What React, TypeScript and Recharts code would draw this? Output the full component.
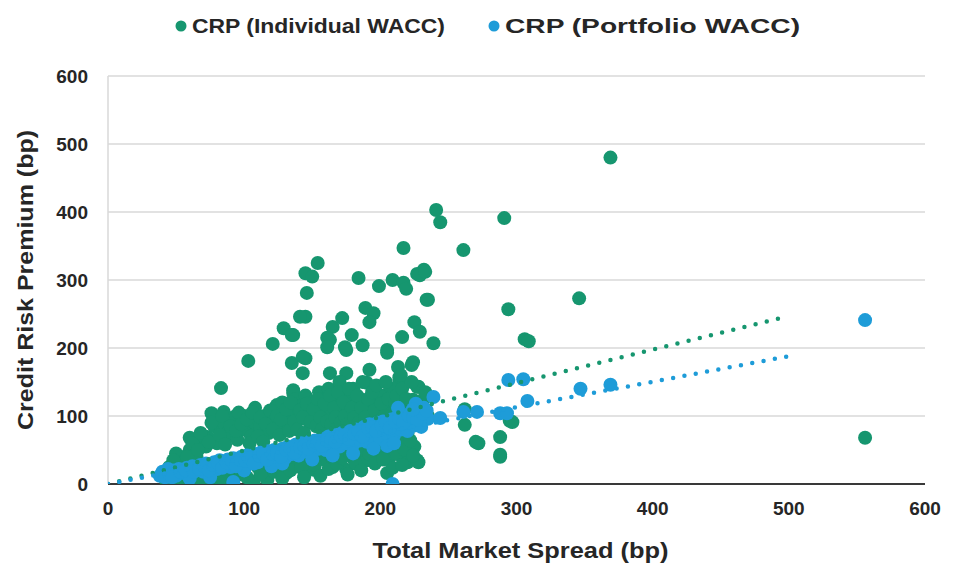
import React from "react";
import {
  ScatterChart,
  Scatter,
  XAxis,
  YAxis,
  CartesianGrid,
  Label,
} from "recharts";

const GREEN = "#16966F";
const BLUE = "#1E9CD8";
const FONT = "'Liberation Sans', Arial, sans-serif";
const TEXT = "#262626";

const xTicks = [0, 100, 200, 300, 400, 500, 600];
const yTicks = [0, 100, 200, 300, 400, 500, 600];

const seriesNames = ["CRP (Individual WACC)", "CRP (Portfolio WACC)"];

// [total market spread, credit risk premium]
const individualPoints: [number, number][] = [
  [369, 480], [241, 403], [244, 385], [291, 391], [261, 344], [346, 273],
  [294, 257], [306, 213], [309, 210], [217, 347], [232, 315], [227, 309],
  [235, 271], [239, 207], [262, 110], [272, 60], [288, 40], [288, 69],
  [295, 93], [556, 68], [154, 325], [145, 310], [150, 305], [146, 281],
  [145, 246], [136, 219], [184, 303], [199, 291], [209, 300], [217, 296],
  [219, 287], [229, 307], [233, 312], [234, 271], [189, 259], [195, 251],
  [192, 238], [172, 244], [165, 231], [161, 215], [179, 219], [187, 204],
  [174, 201], [205, 197], [216, 216], [225, 238], [229, 224], [129, 229],
  [135, 219], [121, 206], [141, 246], [103, 181], [83, 141], [135, 178],
  [145, 185], [163, 212], [175, 197], [161, 201], [205, 193], [224, 179],
  [60, 68], [76, 104], [85, 106], [93, 99], [108, 112], [125, 113],
  [136, 138], [143, 163], [163, 163], [175, 163], [190, 149], [180, 128],
  [206, 134], [214, 153], [228, 143], [190, 119], [53, 40], [65, 60],
  [209, 109], [227, 143], [224, 124], [213, 172], [223, 175], [214, 157],
  [192, 168], [192, 124], [143, 187], [124, 116], [106, 79], [73, 69],
  [87, 69], [136, 134], [136, 99], [158, 104], [148, 90], [170, 99],
  [139, 104], [205, 104], [262, 87], [270, 62], [288, 43], [297, 91],
  [207, 40], [220, 32], [228, 32], [205, 16], [200, 54], [185, 46],
  [175, 21], [165, 25], [151, 21], [131, 16], [117, 6], [107, 3],
  [92, 6], [75, 1], [68, 0], [55, 1], [43, 3], [131, 25], [146, 32],
  [117, 21], [97, 16], [80, 10], [51, 16], [51, 38], [195, 50],
  [209, 24], [190, 35], [148, 32], [163, 32], [220, 35], [227, 35],
  [50, 45], [55, 30], [60, 50], [65, 40], [70, 70], [72, 55], [78, 85],
  [80, 60], [85, 90], [88, 75], [92, 95], [95, 65], [100, 80], [100, 100],
  [105, 70], [108, 90], [112, 85], [115, 100], [118, 75], [120, 95],
  [122, 110], [125, 85], [128, 120], [130, 100], [132, 90], [135, 110],
  [138, 125], [140, 95], [142, 115], [145, 130], [148, 105], [150, 120],
  [152, 100], [155, 135], [158, 110], [160, 125], [162, 140], [165, 105],
  [168, 120], [170, 150], [172, 110], [175, 130], [178, 100], [180, 140],
  [182, 115], [185, 125], [188, 105], [190, 110], [195, 120], [198, 100],
  [200, 130], [205, 115], [210, 105], [215, 95], [220, 110], [225, 100],
  [230, 90], [232, 125], [210, 140], [215, 160], [60, 8], [70, 12],
  [80, 18], [90, 20], [100, 22], [110, 25], [120, 28], [130, 35],
  [140, 38], [150, 40], [160, 45], [170, 50], [180, 55], [190, 60],
  [200, 70], [210, 65], [220, 75], [225, 55], [140, 30], [160, 35],
  [180, 38], [200, 45],
  [45, 25], [48, 35], [58, 40], [62, 60], [66, 50], [68, 75], [74, 62],
  [76, 90], [82, 72], [84, 100], [86, 58], [90, 85], [94, 78], [96, 105],
  [98, 88], [102, 95], [104, 60], [106, 105], [110, 70], [112, 98],
  [114, 62], [116, 88], [119, 108], [121, 80], [124, 100], [126, 72],
  [127, 95], [131, 110], [133, 78], [134, 120], [137, 92], [139, 80],
  [141, 108], [143, 98], [144, 75], [146, 118], [149, 92], [151, 110],
  [153, 85], [154, 125], [156, 98], [157, 80], [159, 118], [161, 92],
  [163, 130], [164, 88], [166, 112], [167, 98], [169, 135], [171, 90],
  [173, 120], [174, 100], [176, 88], [177, 140], [179, 112], [181, 98],
  [183, 130], [184, 90], [186, 112], [187, 150], [189, 98], [191, 125],
  [193, 90], [194, 135], [196, 108], [197, 145], [199, 92], [201, 118],
  [203, 100], [204, 150], [206, 125], [208, 95], [211, 118], [212, 130],
  [214, 108], [216, 140], [218, 100], [219, 125], [221, 92], [223, 150],
  [226, 112], [228, 98], [231, 105], [233, 135], [235, 100],
  [42, 8], [46, 4], [52, 6], [57, 12], [63, 4], [66, 16], [72, 6],
  [76, 20], [84, 8], [86, 22], [94, 12], [96, 28], [102, 10], [104, 30],
  [112, 14], [114, 32], [122, 18], [124, 34], [128, 8], [134, 20],
  [136, 40], [142, 24], [144, 10], [152, 28], [154, 44], [156, 12],
  [162, 22], [164, 40], [168, 30], [172, 38], [176, 14], [178, 45],
  [182, 30], [186, 20], [188, 50], [192, 44], [196, 30], [198, 60],
  [202, 36], [206, 55], [212, 44], [214, 62], [216, 28], [218, 50],
  [222, 64], [224, 42],
];

const portfolioPoints: [number, number][] = [
  [38, 12], [40, 18], [42, 10], [45, 15], [48, 20], [50, 12], [52, 22],
  [55, 16], [58, 24], [60, 14], [62, 26], [65, 20], [68, 28], [70, 18],
  [72, 30], [75, 24], [78, 32], [80, 22], [82, 35], [85, 28], [88, 36],
  [90, 25], [92, 38], [95, 30], [98, 40], [100, 28], [102, 42], [105, 34],
  [108, 44], [110, 32], [112, 46], [115, 38], [118, 48], [120, 35],
  [122, 50], [125, 40], [128, 52], [130, 38], [132, 55], [135, 44],
  [138, 58], [140, 42], [142, 60], [145, 48], [148, 62], [150, 46],
  [152, 64], [155, 52], [158, 66], [160, 50], [162, 70], [165, 56],
  [168, 72], [170, 55], [172, 75], [175, 60], [178, 78], [180, 58],
  [182, 80], [185, 64], [188, 84], [190, 62], [192, 88], [195, 70],
  [198, 90], [200, 66], [202, 92], [205, 74], [208, 95], [210, 72],
  [212, 98], [215, 80], [218, 100], [220, 78], [222, 104], [225, 86],
  [228, 108], [230, 84], [232, 112], [235, 96], [226, 118], [92, 3],
  [209, 0], [239, 128], [244, 97], [229, 94], [220, 90], [261, 106],
  [271, 106], [288, 104], [293, 104], [294, 153], [305, 154], [308, 122],
  [347, 140], [369, 146], [556, 241], [205, 56], [180, 45], [150, 36],
  [120, 26], [100, 20], [210, 60], [195, 52], [75, 10], [60, 8],
  [128, 30], [165, 42], [140, 52], [170, 66], [185, 72], [200, 80],
  [215, 88], [100, 38], [110, 40], [90, 32], [130, 48], [160, 60],
  [175, 68], [190, 76], [205, 84], [220, 96],
  [44, 22], [47, 10], [53, 18], [57, 20], [63, 18], [67, 22], [71, 26],
  [74, 20], [77, 28], [81, 30], [84, 24], [87, 32], [91, 34], [94, 26],
  [97, 36], [101, 34], [104, 38], [107, 30], [111, 42], [114, 44],
  [117, 36], [121, 44], [124, 46], [127, 40], [131, 50], [134, 52],
  [137, 46], [141, 54], [144, 56], [147, 52], [151, 58], [154, 60],
  [157, 56], [161, 64], [164, 66], [167, 62], [171, 70], [174, 72],
  [177, 66], [181, 74], [184, 78], [187, 70], [191, 82], [194, 84],
  [197, 78], [201, 86], [204, 90], [207, 82], [211, 92], [214, 96],
  [217, 90], [221, 100], [224, 98], [227, 94], [231, 104], [234, 108],
  [213, 112], [224, 110],
];

// linear trendline end points as drawn
const individualTrend: [number, number][] = [[0, 0], [500, 247]];
const portfolioTrend: [number, number][] = [[0, 0], [500, 188]];

const toRows = (pts: [number, number][]) => pts.map(([x, y]) => ({ x, y }));

const Dot = (color: string) => (props: any) => (
  <circle cx={props.cx} cy={props.cy} r={7} fill={color} />
);

const NoShape = () => <g />;

// legend drawn as an overlay; text widths follow the reference's stretched type
function ChartLegend() {
  const items = [
    { name: seriesNames[0], color: GREEN, cx: 181, width: 253 },
    { name: seriesNames[1], color: BLUE, cx: 494, width: 295 },
  ];
  return (
    <svg width={955} height={50} style={{ position: "absolute", top: 0, left: 0 }}>
      {items.map((it) => (
        <g key={it.name}>
          <circle cx={it.cx} cy={26} r={5.5} fill={it.color} />
          <text
            x={it.cx + 11}
            y={33}
            textLength={it.width}
            lengthAdjust="spacingAndGlyphs"
            style={{ fontSize: 20, fontWeight: "bold", fill: TEXT, fontFamily: FONT }}
          >
            {it.name}
          </text>
        </g>
      ))}
    </svg>
  );
}

export default function App() {
  const tickStyle = { fontSize: 19, fontWeight: "bold", fill: TEXT, fontFamily: FONT };
  const titleStyle = { fontSize: 22, fontWeight: "bold", fill: TEXT, fontFamily: FONT };
  return (
    <div style={{ position: "relative", width: 955, height: 565, background: "#fff" }}>
      <style>{`body{margin:0}`}</style>
      <ChartLegend />
      <ScatterChart width={955} height={565} margin={{ top: 76, right: 30, bottom: 0, left: 0 }}>
        <CartesianGrid horizontal vertical={false} stroke="#d9d9d9" strokeWidth={1.5} />
        <XAxis
          type="number"
          dataKey="x"
          domain={[0, 600]}
          ticks={xTicks}
          allowDataOverflow
          height={81}
          tickSize={0}
          tickMargin={18}
          tick={tickStyle}
          axisLine={{ stroke: "#000", strokeWidth: 1.5 }}
        >
          <Label
            content={({ viewBox }: any) => {
              const cx = viewBox.x + viewBox.width / 2 + 4;
              return (
                <text
                  x={cx}
                  y={558}
                  textAnchor="middle"
                  textLength={296}
                  lengthAdjust="spacingAndGlyphs"
                  style={titleStyle}
                >
                  Total Market Spread (bp)
                </text>
              );
            }}
          />
        </XAxis>
        <YAxis
          type="number"
          dataKey="y"
          domain={[0, 600]}
          ticks={yTicks}
          allowDataOverflow
          width={108}
          tickSize={0}
          tickMargin={20}
          tick={tickStyle}
          axisLine={{ stroke: "#d9d9d9", strokeWidth: 1.5 }}
        >
          <Label
            content={({ viewBox }: any) => {
              const cx = 25;
              const cy = viewBox.y + viewBox.height / 2;
              return (
                <text
                  x={cx}
                  y={cy}
                  transform={`rotate(-90 ${cx} ${cy})`}
                  textAnchor="middle"
                  dominantBaseline="central"
                  textLength={300}
                  lengthAdjust="spacingAndGlyphs"
                  style={titleStyle}
                >
                  Credit Risk Premium (bp)
                </text>
              );
            }}
          />
        </YAxis>
        <Scatter
          name={seriesNames[0]}
          data={toRows(individualPoints)}
          fill={GREEN}
          shape={Dot(GREEN)}
          isAnimationActive={false}
        />
        <Scatter
          name={seriesNames[1]}
          data={toRows(portfolioPoints)}
          fill={BLUE}
          shape={Dot(BLUE)}
          isAnimationActive={false}
        />
        <Scatter
          data={toRows(individualTrend)}
          line={{ stroke: GREEN, strokeWidth: 4.5, strokeDasharray: "0 11.5", strokeLinecap: "round" }}
          shape={NoShape}
          legendType="none"
          isAnimationActive={false}
        />
        <Scatter
          data={toRows(portfolioTrend)}
          line={{ stroke: BLUE, strokeWidth: 4.5, strokeDasharray: "0 11.5", strokeLinecap: "round" }}
          shape={NoShape}
          legendType="none"
          isAnimationActive={false}
        />
      </ScatterChart>
    </div>
  );
}
